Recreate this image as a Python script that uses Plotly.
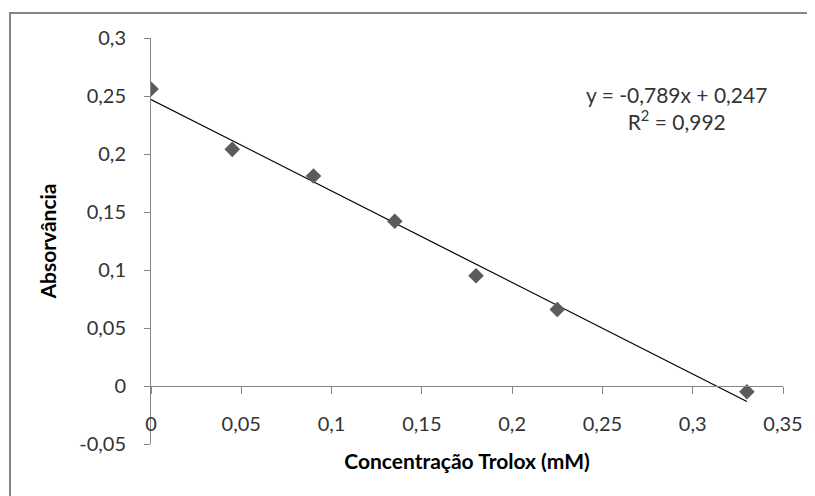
import plotly.graph_objects as go

# ---- data ----
trolox_mM = [0.0, 0.045, 0.09, 0.135, 0.18, 0.225, 0.33]
absorbance = [0.256, 0.204, 0.181, 0.142, 0.095, 0.066, -0.005]

fit_slope = -0.789
fit_intercept = 0.247
fit_r2 = 0.992

x_ticks = [0, 0.05, 0.1, 0.15, 0.2, 0.25, 0.3, 0.35]
x_ticklabels = ["0", "0,05", "0,1", "0,15", "0,2", "0,25", "0,3", "0,35"]
y_ticks = [-0.05, 0, 0.05, 0.1, 0.15, 0.2, 0.25, 0.3]
y_ticklabels = ["-0,05", "0", "0,05", "0,1", "0,15", "0,2", "0,25", "0,3"]

x_range = [0, 0.35]
y_range = [-0.05, 0.3]

# trendline across the data span
trend_x = [min(trolox_mM), max(trolox_mM)]
trend_y = [fit_slope * v + fit_intercept for v in trend_x]

def fmt(v, n=3):
    return f"{v:.{n}f}".replace(".", ",")

eq_text = (f"y = {fmt(fit_slope)}x + {fmt(fit_intercept)}"
           f"<br>R<sup>2</sup> = {fmt(fit_r2)}")

FONT = "Lato, 'Open Sans', sans-serif"
AXC = "#868686"
TXT = "#333333"

# page has an 8px body margin; size the figure to fit the 815x496 window
OFF = 8
W, H = 815 - OFF, 496 - OFF
L, T = 151 - OFF, 38 - OFF
R, B = W - (783 - OFF), H - (444 - OFF)
pw, ph = W - L - R, H - T - B

def px_to_paper_x(px):
    return (px - OFF - L) / pw

def px_to_paper_y(py):
    return 1 - (py - OFF - T) / ph

fig = go.Figure()
fig.add_trace(go.Scatter(
    x=trend_x, y=trend_y, mode="lines",
    line=dict(color="#000000", width=1.2),
    showlegend=False, hoverinfo="skip"))
fig.add_trace(go.Scatter(
    x=trolox_mM, y=absorbance, mode="markers",
    marker=dict(symbol="diamond", size=12, color="#5b5b5b"),
    showlegend=False))

fig.update_layout(
    width=W, height=H,
    margin=dict(l=L, r=R, t=T, b=B),
    paper_bgcolor="white", plot_bgcolor="white",
    font=dict(family=FONT, size=20, color=TXT),
    xaxis=dict(
        range=x_range, tickvals=x_ticks, ticktext=x_ticklabels,
        anchor="free",
        position=(0 - y_range[0]) / (y_range[1] - y_range[0]),
        showline=True, linecolor=AXC, linewidth=1,
        ticks="outside", ticklen=7, tickcolor=AXC,
        ticklabelstandoff=13,
        showgrid=False, zeroline=False, automargin=False,
        title=dict(text="<b>Concentração Trolox (mM)</b>",
                   font=dict(size=21, color="#000000"), standoff=20),
    ),
    yaxis=dict(
        range=y_range, tickvals=y_ticks, ticktext=y_ticklabels,
        showline=True, linecolor=AXC, linewidth=1,
        ticks="outside", ticklen=6, tickcolor=AXC,
        ticklabelstandoff=14,
        showgrid=False, zeroline=False, automargin=False,
        title=dict(text="<b>Absorvância</b>",
                   font=dict(size=21, color="#000000"), standoff=16),
    ),
    annotations=[dict(
        text=eq_text, xref="paper", yref="paper",
        x=px_to_paper_x(676), y=px_to_paper_y(108),
        xanchor="center", yanchor="middle", showarrow=False,
        align="center", font=dict(size=21, color=TXT))],
    shapes=[dict(
        type="rect", xref="paper", yref="paper",
        x0=px_to_paper_x(10), y0=px_to_paper_y(H + 40),
        x1=px_to_paper_x(W + 40), y1=px_to_paper_y(13),
        line=dict(color="#868686", width=2), layer="below")],
)

fig.write_html("out.html")
